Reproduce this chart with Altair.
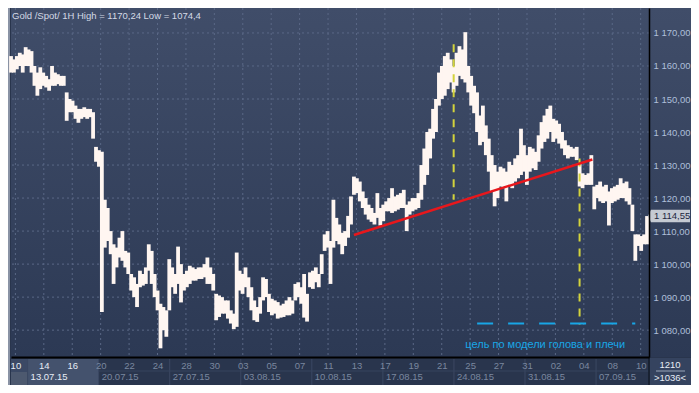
import json
import altair as alt
import pandas as pd

# ---------------- data ----------------
title_text = "Gold /Spot/  1H High = 1170,24 Low = 1074,4"

first_bar_day = -0.309   # trading-day index of first drawn column (0 = 10 Jul)
bar_step_day = 0.20625   # trading days per drawn column (~5 hourly bars)

price_low = [
    1158, 1158, 1159, 1160, 1158, 1160, 1160, 1158, 1154, 1151,
    1153, 1154, 1153.5, 1152.5, 1154, 1154, 1154.5, 1154, 1154, 1143.4,
    1146, 1146, 1144, 1142.8, 1144, 1144.5, 1144, 1144.5, 1138, 1131,
    1129.5, 1085.5, 1105, 1107, 1103, 1094, 1099, 1102, 1101, 1099,
    1097, 1092, 1090, 1087, 1093, 1093.5, 1094, 1098, 1094, 1090,
    1086, 1074.5, 1080, 1078, 1086, 1093, 1091, 1094, 1088.4, 1092,
    1093, 1094, 1095, 1095, 1095.5, 1095.5, 1096, 1094, 1094, 1092,
    1083, 1084, 1085, 1085, 1083.5, 1082, 1080.3, 1081, 1092, 1091,
    1093, 1090, 1086, 1083, 1082.5, 1085, 1089, 1090, 1085.5, 1084.5,
    1085, 1083.5, 1083.8, 1084, 1084.5, 1084.5, 1085, 1089, 1090, 1088,
    1083.8, 1082.6, 1093, 1092.5, 1094.5, 1093, 1097, 1104, 1105, 1094,
    1105, 1107, 1106, 1103, 1105.5, 1108, 1112, 1121, 1121.5, 1119,
    1117, 1115, 1113.5, 1112.8, 1112, 1114, 1111.7, 1113, 1116, 1116,
    1115.5, 1116, 1116.5, 1117, 1117, 1110, 1115, 1116, 1116.5, 1117,
    1119.5, 1124, 1127, 1132, 1138, 1140, 1148, 1150, 1151, 1153,
    1155, 1152, 1154, 1157, 1156, 1155, 1152, 1148, 1145.7, 1140,
    1136, 1137, 1133, 1128, 1122, 1117.5, 1120, 1123.5, 1123, 1119,
    1124, 1123, 1125, 1126, 1127, 1128, 1124, 1128, 1129, 1128.5,
    1131, 1135, 1137, 1138, 1140, 1137, 1138, 1136.5, 1135, 1133,
    1132, 1132.5, 1132.5, 1131.5, 1123.5, 1123, 1124, 1124, 1124, 1116.6,
    1120, 1119, 1118.5, 1119, 1111.7, 1118.5, 1119, 1119.5, 1120, 1120,
    1119, 1118, 1110, 1101, 1105.5, 1104, 1106, 1106,
]
price_high = [
    1163, 1162, 1163, 1164, 1163.5, 1165.7, 1165, 1164.5, 1160, 1158,
    1159.6, 1158, 1157, 1156, 1160, 1158, 1157.5, 1157, 1157, 1152,
    1150, 1149.5, 1148, 1147, 1147, 1147.5, 1147, 1147, 1146, 1135.5,
    1134.5, 1134, 1119.5, 1117, 1110, 1106, 1105, 1108, 1110, 1104,
    1103.5, 1097, 1096, 1094, 1098, 1097, 1099, 1106, 1104, 1097,
    1092, 1088, 1087, 1086, 1101.5, 1099, 1097, 1105.3, 1100, 1097,
    1098, 1099.5, 1099, 1098.5, 1099, 1099, 1100, 1102, 1099, 1097,
    1091, 1090.5, 1090, 1089, 1089, 1086, 1085, 1103.5, 1098, 1097,
    1099, 1096, 1093, 1089, 1087, 1090, 1096, 1095.5, 1091, 1089.5,
    1089, 1088.5, 1087.5, 1088, 1089, 1090, 1089, 1094, 1094.5, 1093,
    1097, 1091, 1097.5, 1098, 1099, 1097, 1103, 1109, 1110, 1107,
    1119.5, 1114, 1112, 1109.5, 1110, 1114.6, 1120.5, 1126.5, 1126, 1125,
    1122, 1120, 1118, 1117, 1115.5, 1121.5, 1117, 1118, 1119, 1120,
    1123, 1120.5, 1121, 1121.5, 1122.5, 1118, 1119, 1120, 1120, 1121.5,
    1130, 1135, 1140, 1141, 1147, 1150, 1158, 1160, 1163, 1164,
    1162, 1160, 1164, 1166, 1165, 1170.24, 1160, 1157, 1154, 1152,
    1145, 1148, 1142, 1138, 1133, 1130, 1128, 1129.5, 1129, 1128,
    1131, 1130, 1132, 1133, 1141, 1136, 1133, 1135.5, 1135, 1134,
    1139, 1143, 1145, 1147, 1148, 1144, 1143.5, 1142.5, 1140, 1137.5,
    1136, 1135.5, 1135, 1135.5, 1130.5, 1127.5, 1127, 1127.5, 1133, 1123.5,
    1124, 1125, 1123.5, 1124, 1122, 1123, 1123.5, 1124, 1126, 1124.5,
    1125, 1123, 1118, 1109, 1109, 1108.5, 1109, 1114.55,
]

day_tick_values = list(range(0, 45, 2))
day_tick_labels = ["10", "14", "16", "20", "22", "24", "28", "30", "03", "05", "07", "11",
                   "13", "17", "19", "21", "25", "27", "31", "02", "04", "08", "10"]
week_start_days = [1, 6, 11, 16, 21, 26, 31, 36, 41]
week_labels = ["13.07.15", "20.07.15", "27.07.15", "03.08.15", "10.08.15",
               "17.08.15", "24.08.15", "31.08.15", "07.09.15"]
price_ticks = [1080, 1090, 1100, 1110, 1120, 1130, 1140, 1150, 1160, 1170]

neckline_days = [23.82, 40.60]
neckline_prices = [1108.8, 1131.7]
projection_days = [30.84, 39.70]
projection_top = [1166.6, 1132.0]
projection_bottom = [1119.5, 1081.7]
target_price = 1082.0
target_from_day = 32.49
target_to_day = 43.62
target_text = "цель по модели голова и плечи"
target_text_day = 31.66
target_text_price = 1075.6
last_price = 1114.55
bars_total = "1210"
bars_visible = ">1036<"

x_domain = [-0.309, 44.585]
y_domain = [1071.87, 1177.56]

# ---------------- chart ----------------
W, H = 638, 349
FONT = "Liberation Sans"
xs = alt.Scale(domain=x_domain, nice=False, zero=False)
ys = alt.Scale(domain=y_domain, nice=False, zero=False)

x_axis = alt.Axis(
    values=day_tick_values,
    labelExpr=json.dumps(day_tick_labels) + "[round(datum.value / 2)]",
    title=None, grid=False, ticks=False, domain=True, domainColor="#000000", domainWidth=2,
    labelFont=FONT, labelFontSize=9.5, labelPadding=3, labelFlush=False, labelOverlap=False,
    labelColor={"condition": {"test": "datum.value <= 4", "value": "#e6ecf5"},
                "value": "#7a879f"},
    zindex=1)
y_axis = alt.Axis(
    orient="right", values=price_ticks,
    labelExpr="'1 ' + replace(format(datum.value - 1000, '06.2f'), '.', ',')",
    title=None, grid=False, ticks=False, domain=True, domainColor="#000000", domainWidth=1.5,
    labelFont=FONT, labelFontSize=9.5, labelColor="#aebfd9", labelPadding=4,
    labelFlush=False, labelOverlap=False, zindex=1)


def X(field):
    return alt.X(field, scale=xs, axis=x_axis)


def Y(field):
    return alt.Y(field, scale=ys, axis=y_axis)


bars_df = pd.DataFrame({
    "t": [first_bar_day + i * bar_step_day for i in range(len(price_low))],
    "low": price_low,
    "high": price_high,
})
one_df = pd.DataFrame({"k": [0]})
week_df = pd.DataFrame({"t": week_start_days, "w": week_labels})
cells_df = pd.DataFrame({"a": [x_domain[0]], "b": [week_start_days[0]],
                         "c": [week_start_days[0]], "d": [week_start_days[1]],
                         "e": [x_domain[1]]})


def vrect(color, x0, x1, y0, y1):
    return alt.Chart(one_df).mark_rect(color=color).encode(
        x=alt.value(x0), x2=alt.value(x1), y=alt.value(y0), y2=alt.value(y1))


bg = alt.Chart(one_df).mark_rect(
    color=alt.LinearGradient(
        gradient="linear", x1=0, y1=0, x2=0, y2=1,
        stops=[alt.GradientStop(color="#404d69", offset=0),
               alt.GradientStop(color="#2c3954", offset=1)])
).encode(x=alt.value(0), x2=alt.value(W + 42), y=alt.value(0), y2=alt.value(H))

border = vrect("#8a93a5", -3, -1, 0, H + 28)

cell_left_top = alt.Chart(cells_df).mark_rect(color="#3b4965", x2Offset=-2).encode(
    x=X("a:Q"), x2="b:Q", y=alt.value(H + 2), y2=alt.value(H + 15))
cell_left_bottom = alt.Chart(cells_df).mark_rect(color="#4d596f", x2Offset=-2).encode(
    x=X("a:Q"), x2="b:Q", y=alt.value(H + 15), y2=alt.value(H + 28))
cell_week = alt.Chart(cells_df).mark_rect(color="#44526d", xOffset=-2, x2Offset=-2).encode(
    x=X("c:Q"), x2="d:Q", y=alt.value(H + 2), y2=alt.value(H + 28))

week_sep = alt.Chart(week_df).mark_rule(color="#3b4863", xOffset=-2).encode(
    x=X("t:Q"), y=alt.value(H + 2), y2=alt.value(H + 28))
row_sep = alt.Chart(cells_df).mark_rule(color="#37445f", xOffset=-2).encode(
    x=X("d:Q"), x2="e:Q", y=alt.value(H + 14))

corner_box = vrect("#35435f", W + 1, W + 42, H + 1, H + 28)
corner_sep = alt.Chart(one_df).mark_rule(color="#9aa6ba").encode(
    x=alt.value(W + 7), x2=alt.value(W + 36), y=alt.value(H + 14))
right_sep = alt.Chart(one_df).mark_rule(color="#151c2a", strokeWidth=1.5).encode(
    x=alt.value(W), y=alt.value(H), y2=alt.value(H + 28))
corner_t1 = alt.Chart(pd.DataFrame({"s": [bars_total]})).mark_text(
    font=FONT, fontSize=9.5, color="#e8edf5", align="center", baseline="middle"
).encode(x=alt.value(W + 21), y=alt.value(H + 8), text="s:N")
corner_t2 = alt.Chart(pd.DataFrame({"s": [bars_visible]})).mark_text(
    font=FONT, fontSize=9.5, color="#e8edf5", align="center", baseline="middle"
).encode(x=alt.value(W + 21), y=alt.value(H + 21), text="s:N")

vgrid = alt.Chart(pd.DataFrame({"t": day_tick_values})).mark_rule(
    color="#5a6886", strokeDash=[2, 3], strokeWidth=1).encode(x=X("t:Q"))
hgrid = alt.Chart(pd.DataFrame({"p": price_ticks})).mark_rule(
    color="#5a6886", strokeDash=[2, 3], strokeWidth=1).encode(y=Y("p:Q"))

bars = alt.Chart(bars_df).mark_rule(color="#fff6f1", strokeWidth=3.8).encode(
    x=X("t:Q"), y=Y("low:Q"), y2="high:Q")

proj = alt.Chart(pd.DataFrame({"t": projection_days, "top": projection_top,
                               "bottom": projection_bottom})).mark_rule(
    color="#d3d33c", strokeWidth=2, strokeDash=[8, 7]).encode(
    x=X("t:Q"), y=Y("top:Q"), y2="bottom:Q")

neck = alt.Chart(pd.DataFrame({"t": neckline_days, "p": neckline_prices})).mark_line(
    color="#e8171c", strokeWidth=2.5).encode(x=X("t:Q"), y=Y("p:Q"))

target = alt.Chart(pd.DataFrame({"a": [target_from_day], "b": [target_to_day],
                                 "p": [target_price]})).mark_rule(
    color="#18a6e6", strokeWidth=2, strokeDash=[16, 15]).encode(
    x=X("a:Q"), x2="b:Q", y=Y("p:Q"))

target_lbl = alt.Chart(pd.DataFrame({"t": [target_text_day], "p": [target_text_price],
                                     "s": [target_text]})).mark_text(
    font=FONT, fontSize=11, color="#18a6e6", align="left", baseline="middle").encode(
    x=X("t:Q"), y=Y("p:Q"), text="s:N")

title = alt.Chart(pd.DataFrame({"s": [title_text]})).mark_text(
    font=FONT, fontSize=9.5, color="#d4dae6", align="left", baseline="middle").encode(
    x=alt.value(1), y=alt.value(8), text="s:N")

last_df = pd.DataFrame({"p": [last_price]})
last_box = alt.Chart(last_df).mark_point(
    shape="M-1,0L-0.86,-0.3L1,-0.3L1,0.3L-0.86,0.3Z", filled=True, size=1764,
    color="#c5cad3", opacity=1, strokeWidth=0).encode(
    x=alt.value(W + 20), y=Y("p:Q"))
last_txt = alt.Chart(last_df).transform_calculate(
    lbl="'1 ' + replace(format(datum.p - 1000, '06.2f'), '.', ',')").mark_text(
    font=FONT, fontSize=9.5, color="#1e2740", align="left", baseline="middle").encode(
    x=alt.value(W + 5), y=Y("p:Q"), text="lbl:N")

week_txt = alt.Chart(week_df).mark_text(
    font=FONT, fontSize=9.5, align="left", baseline="middle", dx=1).encode(
    x=X("t:Q"), y=alt.value(H + 20), text="w:N",
    color=alt.condition(alt.datum.w == week_labels[0], alt.value("#e6ecf5"),
                        alt.value("#7a879f")))

chart = alt.layer(
    bg, border, cell_left_top, cell_left_bottom, cell_week, week_sep, row_sep,
    corner_box, corner_sep, right_sep, corner_t1, corner_t2,
    vgrid, hgrid, bars, proj, neck, target, target_lbl, title,
    last_box, last_txt, week_txt,
).properties(
    width=W, height=H,
    padding={"left": 3, "top": 0, "right": 42, "bottom": 28},
    autosize=alt.AutoSizeParams(type="none"),
    background="#29354d",
).configure_view(strokeWidth=0)

chart.save("out.html", embed_options={"renderer": "svg", "actions": False})
